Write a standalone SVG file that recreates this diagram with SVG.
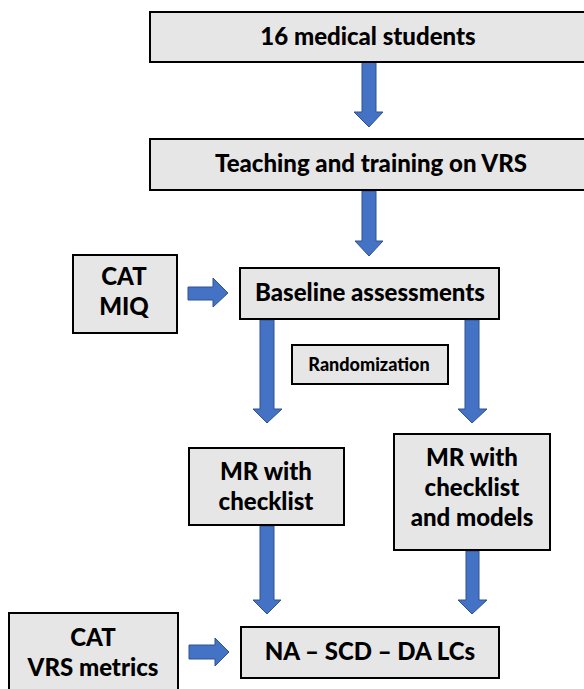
<svg xmlns="http://www.w3.org/2000/svg" width="584" height="689" viewBox="0 0 584 689">
<style>
.box{fill:#e7e6e6;stroke:#000;stroke-width:2}
.arr{fill:#4472c4;stroke:#2f528f;stroke-width:1}
text{font-family:"Lato","Liberation Sans",sans-serif;font-weight:900;fill:#000;text-anchor:middle}
.t{font-size:24px}
.s{font-size:18px}
</style>
<rect width="584" height="689" fill="#fff"/>
<g id="connectors">
<polygon class="arr" points="362,62 376,62 376,112 383,112 369,127 354,112 362,112"/>
<polygon class="arr" points="362,191 376,191 376,241 383,241 369,256 355,241 362,241"/>
<polygon class="arr" points="188,287 213,287 213,278 228,293 213,307 213,300 188,300"/>
<polygon class="arr" points="260,320 274,320 274,409 282,409 267,423 253,409 260,409"/>
<polygon class="arr" points="465,320 479,320 479,409 487,409 472,423 458,409 465,409"/>
<polygon class="arr" points="260,526 274,526 274,600 281,600 267,614 253,600 260,600"/>
<polygon class="arr" points="466,551 479,551 479,600 487,600 472,614 458,600 466,600"/>
<polygon class="arr" points="189,645 215,645 215,638 229,652 215,666 215,659 189,659"/>
</g>
<g id="n1"><rect class="box" x="150" y="12" width="440" height="50"/><text class="t" x="368" y="45">16 medical students</text></g>
<g id="n2"><rect class="box" x="150" y="139" width="440" height="51"/><text class="t" x="371" y="172">Teaching and training on VRS</text></g>
<g id="n3"><rect class="box" x="73" y="255" width="104" height="78"/><text class="t" x="124" y="285">CAT</text><text class="t" x="124" y="315">MIQ</text></g>
<g id="n4"><rect class="box" x="240" y="268" width="259" height="51"/><text class="t" x="370" y="301">Baseline assessments</text></g>
<g id="n5"><rect class="box" x="292" y="345" width="156" height="39"/><text class="s" x="369" y="371">Randomization</text></g>
<g id="n6"><rect class="box" x="189" y="448" width="155" height="77"/><text class="t" x="266" y="480">MR with</text><text class="t" x="266" y="510">checklist</text></g>
<g id="n7"><rect class="box" x="394" y="434" width="156" height="116"/><text class="t" x="472" y="466">MR with</text><text class="t" x="472" y="496">checklist</text><text class="t" x="472" y="526">and models</text></g>
<g id="n8"><rect class="box" x="241" y="627" width="258" height="51"/><text class="t" x="370" y="660">NA – SCD – DA LCs</text></g>
<g id="n9"><rect class="box" x="9" y="613" width="169" height="90"/><text class="t" x="93" y="646">CAT</text><text class="t" x="93" y="676">VRS metrics</text></g>
</svg>
